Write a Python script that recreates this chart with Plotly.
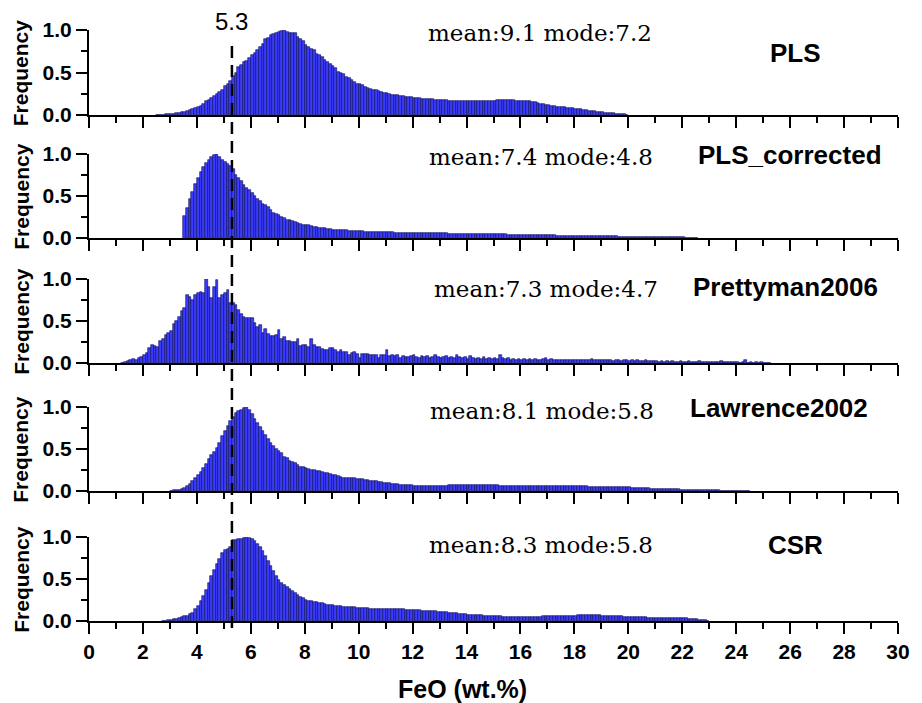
import plotly.graph_objects as go

# ---------------- data ----------------
bin_width = 0.1
ref_value = 5.3
ref_label = "5.3"
x_tick_vals = list(range(0, 31, 2))
y_tick_vals = [0.0, 0.5, 1.0]

names = ["PLS", "PLS_corrected", "Prettyman2006", "Lawrence2002", "CSR"]
stats = ["mean:9.1 mode:7.2", "mean:7.4 mode:4.8", "mean:7.3 mode:4.7",
         "mean:8.1 mode:5.8", "mean:8.3 mode:5.8"]
starts = [2.5, 3.5, 1.2, 3.0, 2.7]   # left edge of first bin (FeO wt.%)

pls = [0.002, 0.003, 0.004, 0.006, 0.008,
       0.01, 0.015, 0.02, 0.025, 0.03, 0.04, 0.05, 0.06, 0.07, 0.085,
       0.1, 0.11, 0.13, 0.16, 0.18, 0.2, 0.22, 0.25, 0.27, 0.3,
       0.34, 0.37, 0.4, 0.46, 0.5, 0.56, 0.59, 0.62, 0.64, 0.67,
       0.71, 0.73, 0.77, 0.8, 0.84, 0.89, 0.91, 0.94, 0.95, 0.96,
       0.98, 0.99, 1.0, 0.98, 0.97, 0.97, 0.96, 0.92, 0.89, 0.87,
       0.82, 0.8, 0.78, 0.76, 0.72, 0.71, 0.68, 0.65, 0.62, 0.6,
       0.58, 0.55, 0.51, 0.5, 0.48, 0.45, 0.43, 0.41, 0.39, 0.37,
       0.36, 0.35, 0.33, 0.32, 0.31, 0.3, 0.29, 0.28, 0.27, 0.26,
       0.26, 0.25, 0.24, 0.23, 0.23, 0.22, 0.22, 0.21, 0.21, 0.21,
       0.2, 0.2, 0.2, 0.19, 0.19, 0.19, 0.19, 0.19, 0.18, 0.18,
       0.18, 0.18, 0.18, 0.17, 0.17, 0.17, 0.17, 0.16, 0.16, 0.16,
       0.16, 0.16, 0.16, 0.17, 0.17, 0.17, 0.17, 0.17, 0.17, 0.17,
       0.17, 0.18, 0.18, 0.18, 0.18, 0.18, 0.18, 0.18, 0.17, 0.17,
       0.17, 0.17, 0.16, 0.16, 0.15, 0.15, 0.14, 0.13, 0.13, 0.12,
       0.12, 0.11, 0.11, 0.1, 0.1, 0.09, 0.09, 0.085, 0.08, 0.08,
       0.075, 0.07, 0.065, 0.06, 0.055, 0.05, 0.05, 0.045, 0.04, 0.035,
       0.03, 0.028, 0.025, 0.02, 0.018, 0.015, 0.012, 0.01, 0.007, 0.004]

pls_corrected = [0.26, 0.36, 0.46, 0.55, 0.64,
       0.71, 0.78, 0.84, 0.89, 0.93, 0.96, 0.99, 1.0, 0.97, 0.93,
       0.9, 0.88, 0.86, 0.82, 0.75, 0.72, 0.68, 0.63, 0.6, 0.57,
       0.53, 0.5, 0.46, 0.44, 0.41, 0.39, 0.37, 0.33, 0.3, 0.29,
       0.27, 0.25, 0.24, 0.22, 0.21, 0.2, 0.19, 0.18, 0.17, 0.16,
       0.155, 0.15, 0.14, 0.135, 0.13, 0.125, 0.12, 0.115, 0.11, 0.105,
       0.1, 0.1, 0.095, 0.095, 0.09, 0.09, 0.088, 0.085, 0.083, 0.082,
       0.08, 0.078, 0.077, 0.075, 0.074, 0.072, 0.071, 0.07, 0.069, 0.068,
       0.067, 0.066, 0.066, 0.065, 0.064, 0.063, 0.062, 0.062, 0.061, 0.06,
       0.06, 0.06, 0.059, 0.058, 0.058, 0.057, 0.056, 0.056, 0.055, 0.055,
       0.055, 0.054, 0.054, 0.053, 0.053, 0.052, 0.052, 0.051, 0.05, 0.05,
       0.05, 0.049, 0.048, 0.048, 0.047, 0.047, 0.046, 0.046, 0.045, 0.045,
       0.045, 0.044, 0.043, 0.043, 0.042, 0.041, 0.04, 0.04, 0.039, 0.038,
       0.038, 0.037, 0.036, 0.036, 0.035, 0.034, 0.034, 0.033, 0.032, 0.032,
       0.031, 0.03, 0.03, 0.029, 0.028, 0.028, 0.027, 0.026, 0.026, 0.025,
       0.025, 0.024, 0.024, 0.023, 0.023, 0.022, 0.022, 0.021, 0.021, 0.02,
       0.02, 0.02, 0.019, 0.019, 0.018, 0.018, 0.017, 0.017, 0.016, 0.016,
       0.016, 0.015, 0.015, 0.014, 0.014, 0.013, 0.013, 0.012, 0.012, 0.011,
       0.011, 0.01, 0.01, 0.01, 0.009, 0.009, 0.008, 0.008, 0.008, 0.007,
       0.007, 0.006, 0.005, 0.004, 0.003, 0.002]

prettyman2006 = [0.005, 0.01, 0.02, 0.03, 0.05, 0.04, 0.06, 0.07,
       0.1, 0.12, 0.18, 0.22, 0.2, 0.19, 0.26, 0.29, 0.33, 0.36,
       0.38, 0.47, 0.5, 0.55, 0.62, 0.66, 0.81, 0.79, 0.75, 0.81,
       0.83, 0.84, 0.83, 1.0, 0.9, 0.77, 0.9, 0.99, 0.77, 0.81,
       0.83, 0.87, 0.72, 0.71, 0.69, 0.63, 0.58, 0.55, 0.54, 0.54,
       0.54, 0.48, 0.43, 0.45, 0.36, 0.41, 0.34, 0.32, 0.32, 0.33,
       0.39, 0.29, 0.31, 0.26, 0.26, 0.25, 0.25, 0.28, 0.2, 0.22,
       0.21, 0.19, 0.29, 0.21, 0.19, 0.19, 0.17, 0.16, 0.16, 0.18,
       0.18, 0.16, 0.13, 0.16, 0.13, 0.13, 0.09, 0.12, 0.13, 0.11,
       0.06, 0.11, 0.11, 0.11, 0.1, 0.1, 0.09, 0.06, 0.1, 0.1,
       0.15, 0.08, 0.1, 0.08, 0.09, 0.06, 0.08, 0.07, 0.07, 0.08,
       0.09, 0.07, 0.06, 0.08, 0.07, 0.08, 0.06, 0.07, 0.095, 0.07,
       0.06, 0.07, 0.08, 0.06, 0.07, 0.06, 0.095, 0.07, 0.06, 0.07,
       0.05, 0.08, 0.06, 0.05, 0.06, 0.05, 0.07, 0.05, 0.06, 0.05,
       0.06, 0.05, 0.09, 0.06, 0.05, 0.06, 0.04, 0.05, 0.04, 0.05,
       0.04, 0.05, 0.04, 0.05, 0.04, 0.05, 0.04, 0.04, 0.05, 0.06,
       0.04, 0.05, 0.04, 0.04, 0.03, 0.04, 0.04, 0.03, 0.04, 0.03,
       0.04, 0.03, 0.04, 0.03, 0.04, 0.03, 0.05, 0.03, 0.04, 0.03,
       0.03, 0.04, 0.03, 0.03, 0.02, 0.03, 0.03, 0.02, 0.03, 0.03,
       0.02, 0.03, 0.02, 0.03, 0.02, 0.02, 0.03, 0.02, 0.02, 0.02,
       0.02, 0.015, 0.02, 0.01, 0.02, 0.015, 0.02, 0.01, 0.015, 0.02,
       0.015, 0.01, 0.02, 0.01, 0.015, 0.01, 0.02, 0.01, 0.01, 0.015,
       0.01, 0.015, 0.01, 0.01, 0.02, 0.01, 0.01, 0.015, 0.01, 0.01,
       0.01, 0.005, 0.01, 0.03, 0.005, 0.01, 0.005, 0.01, 0.005, 0.01,
       0.005, 0.003, 0.002]

lawrence2002 = [0.004, 0.007, 0.011, 0.016, 0.025, 0.04, 0.055, 0.08, 0.12, 0.15,
       0.19, 0.23, 0.27, 0.32, 0.38, 0.43, 0.46, 0.51, 0.57, 0.65,
       0.71, 0.77, 0.83, 0.88, 0.93, 0.95, 0.97, 0.99, 1.0, 0.97,
       0.92, 0.86, 0.81, 0.76, 0.71, 0.67, 0.62, 0.57, 0.53, 0.5,
       0.48, 0.45, 0.41, 0.39, 0.36, 0.35, 0.33, 0.31, 0.29, 0.28,
       0.27, 0.26, 0.25, 0.25, 0.24, 0.24, 0.23, 0.22, 0.21, 0.2,
       0.19, 0.19, 0.18, 0.17, 0.16, 0.155, 0.15, 0.15, 0.15, 0.145,
       0.14, 0.14, 0.13, 0.13, 0.125, 0.12, 0.115, 0.11, 0.105, 0.1,
       0.095, 0.09, 0.085, 0.08, 0.078, 0.075, 0.073, 0.07, 0.068, 0.066,
       0.065, 0.064, 0.063, 0.062, 0.062, 0.062, 0.063, 0.063, 0.064, 0.064,
       0.065, 0.065, 0.065, 0.066, 0.066, 0.066, 0.067, 0.067, 0.067, 0.067,
       0.067, 0.067, 0.067, 0.067, 0.067, 0.067, 0.066, 0.066, 0.066, 0.066,
       0.066, 0.066, 0.065, 0.065, 0.065, 0.065, 0.065, 0.065, 0.064, 0.064,
       0.064, 0.063, 0.063, 0.062, 0.062, 0.061, 0.061, 0.06, 0.06, 0.059,
       0.059, 0.058, 0.058, 0.058, 0.057, 0.057, 0.057, 0.056, 0.056, 0.056,
       0.055, 0.055, 0.055, 0.054, 0.054, 0.053, 0.053, 0.052, 0.052, 0.051,
       0.05, 0.05, 0.049, 0.049, 0.048, 0.048, 0.047, 0.046, 0.045, 0.044,
       0.042, 0.04, 0.038, 0.036, 0.034, 0.032, 0.031, 0.03, 0.028, 0.027,
       0.026, 0.025, 0.024, 0.023, 0.022, 0.021, 0.02, 0.019, 0.018, 0.017,
       0.016, 0.015, 0.014, 0.013, 0.012, 0.011, 0.01, 0.01, 0.009, 0.009,
       0.008, 0.008, 0.007, 0.007, 0.006, 0.006, 0.005, 0.005, 0.004, 0.004,
       0.003, 0.003, 0.002, 0.002, 0.001]

csr = [0.003, 0.005, 0.008,
       0.012, 0.018, 0.026, 0.035, 0.045, 0.055, 0.065, 0.08, 0.1, 0.14,
       0.18, 0.24, 0.3, 0.37, 0.45, 0.53, 0.61, 0.68, 0.74, 0.81,
       0.84, 0.86, 0.88, 0.97, 0.97, 0.98, 0.98, 0.99, 1.0, 0.99,
       0.98, 0.95, 0.92, 0.88, 0.83, 0.77, 0.71, 0.65, 0.59, 0.53,
       0.49, 0.45, 0.43, 0.41, 0.38, 0.36, 0.33, 0.31, 0.29, 0.27,
       0.25, 0.24, 0.24, 0.23, 0.225, 0.215, 0.21, 0.2, 0.195, 0.19,
       0.185, 0.18, 0.178, 0.175, 0.172, 0.17, 0.168, 0.165, 0.162, 0.16,
       0.157, 0.155, 0.152, 0.15, 0.148, 0.146, 0.145, 0.143, 0.141, 0.14,
       0.14, 0.14, 0.14, 0.14, 0.14, 0.138, 0.137, 0.135, 0.133, 0.132,
       0.13, 0.128, 0.126, 0.124, 0.122, 0.12, 0.118, 0.116, 0.114, 0.112,
       0.11, 0.107, 0.104, 0.1, 0.097, 0.094, 0.09, 0.087, 0.084, 0.08,
       0.077, 0.074, 0.072, 0.07, 0.068, 0.066, 0.064, 0.062, 0.06, 0.058,
       0.056, 0.055, 0.054, 0.053, 0.052, 0.051, 0.05, 0.05, 0.05, 0.05,
       0.048, 0.048, 0.049, 0.05, 0.05, 0.051, 0.052, 0.053, 0.054, 0.055,
       0.055, 0.056, 0.057, 0.058, 0.059, 0.06, 0.061, 0.062, 0.063, 0.064,
       0.065, 0.066, 0.066, 0.067, 0.067, 0.067, 0.067, 0.067, 0.066, 0.066,
       0.065, 0.064, 0.063, 0.062, 0.06, 0.058, 0.056, 0.054, 0.052, 0.05,
       0.048, 0.047, 0.046, 0.045, 0.044, 0.043, 0.042, 0.041, 0.04, 0.039,
       0.038, 0.037, 0.036, 0.035, 0.034, 0.034, 0.033, 0.033, 0.032, 0.032,
       0.031, 0.03, 0.029, 0.027, 0.024, 0.02, 0.016, 0.012, 0.008, 0.004]

series = [pls, pls_corrected, prettyman2006, lawrence2002, csr]

# ---------------- layout helpers (pixel geometry of the page) ----------------
W, H = 922, 703
L, R = 89, 907          # x axis left / right pixels
T, B = 30, 621          # top of first panel / bottom of last panel
panel_px = [(30, 115), (154, 238), (279, 363), (407, 491), (537, 621)]


def px_x(p):
    return (p - L) / (R - L)


def px_y(p):
    return (B - p) / (B - T)


BAR_FILL = "#3c3cff"
BAR_EDGE = "#0a0a55"
SANS = "Liberation Sans, Arial, sans-serif"
SERIF = "DejaVu Serif, serif"

fig = go.Figure()
for i, vals in enumerate(series):
    xs = [starts[i] + bin_width * (k + 0.5) for k in range(len(vals))]
    fig.add_trace(go.Bar(
        x=xs, y=vals, width=bin_width,
        marker=dict(color=BAR_FILL, line=dict(color=BAR_EDGE, width=0.6)),
        xaxis=f"x{i + 1}", yaxis=f"y{i + 1}", showlegend=False,
        hoverinfo="x+y"))

layout = dict(
    width=W, height=H,
    margin=dict(l=L, r=W - R, t=T, b=H - B, pad=0),
    paper_bgcolor="white", plot_bgcolor="white",
    bargap=0, showlegend=False,
)

for i in range(5):
    top, bot = panel_px[i]
    last = (i == 4)
    xa = dict(
        domain=[0, 1], anchor=f"y{i + 1}", range=[0, 30],
        tickvals=x_tick_vals, ticks="outside", ticklen=11, tickwidth=2,
        tickcolor="black", showline=True, linecolor="black", linewidth=2,
        showgrid=False, zeroline=False, showticklabels=last,
        tickfont=dict(family=SANS, size=21, color="black", weight="bold"),
        minor=dict(dtick=1, tick0=0, ticks="outside", ticklen=6,
                   tickwidth=2, tickcolor="black", showgrid=False),
    )
    if i > 0:
        xa["matches"] = "x"
    ya = dict(
        domain=[px_y(bot), px_y(top)], anchor=f"x{i + 1}", range=[0, 1.0],
        tickvals=y_tick_vals, tickformat=".1f", ticks="outside", ticklen=11,
        tickwidth=2, tickcolor="black", showline=True, linecolor="black",
        linewidth=2, showgrid=False, zeroline=False,
        tickfont=dict(family=SANS, size=21, color="black", weight="bold"),
        minor=dict(dtick=0.25, tick0=0, ticks="outside", ticklen=6,
                   tickwidth=2, tickcolor="black", showgrid=False),
    )
    layout[f"xaxis{i + 1}" if i else "xaxis"] = xa
    layout[f"yaxis{i + 1}" if i else "yaxis"] = ya

fig.update_layout(**layout)

# reference dashed line through all panels
fig.add_shape(type="line", xref="x5", yref="paper",
              x0=ref_value, x1=ref_value, y0=px_y(628), y1=px_y(40),
              line=dict(color="black", width=2.5, dash="12px,7px"))
fig.add_annotation(text=ref_label, xref="x5", yref="paper",
                   x=ref_value, y=px_y(21), showarrow=False,
                   xanchor="center", yanchor="middle",
                   font=dict(family=SANS, size=24, color="black"))

stat_pos = [(545, 33), (546, 157), (551, 289), (547, 411), (546, 545)]
name_pos = [(803, 53), (798, 155), (793, 287), (787, 408), (803, 545)]
for i in range(5):
    top, bot = panel_px[i]
    fig.add_annotation(text=stats[i], xref="paper", yref="paper",
                       x=px_x(stat_pos[i][0]), y=px_y(stat_pos[i][1]),
                       showarrow=False, xanchor="center", yanchor="middle",
                       font=dict(family=SERIF, size=23, color="black"))
    fig.add_annotation(text=f"<b>{names[i]}</b>", xref="paper", yref="paper",
                       x=px_x(name_pos[i][0]), y=px_y(name_pos[i][1]),
                       showarrow=False, xanchor="center", yanchor="middle",
                       font=dict(family=SANS, size=26, color="black"))
    fig.add_annotation(text="<b>Frequency</b>", xref="paper", yref="paper",
                       x=px_x(20), y=px_y((top + bot) / 2), textangle=-90,
                       showarrow=False, xanchor="center", yanchor="middle",
                       font=dict(family=SANS, size=21, color="black"))

fig.add_annotation(text="<b>FeO (wt.%)</b>", xref="paper", yref="paper",
                   x=px_x(467), y=px_y(689), showarrow=False,
                   xanchor="center", yanchor="middle",
                   font=dict(family=SANS, size=25, color="black"))

fig.write_html("out.html")
